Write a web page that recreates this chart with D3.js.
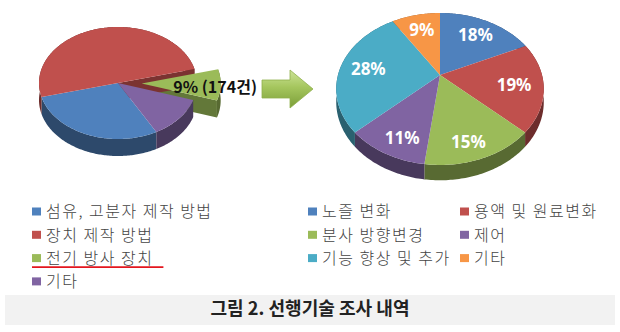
<!DOCTYPE html>
<html><head><meta charset="utf-8">
<script src="https://cdn.jsdelivr.net/npm/d3@7"></script>
<style>
html,body{margin:0;padding:0;background:#fff;}
svg{display:block;}
</style></head><body>
<svg id="chart" width="620" height="332"></svg>
<script>
// 전체 선행기술 분류 (왼쪽 원형)
const leftCategories = ["섬유, 고분자 제작 방법", "장치 제작 방법", "전기 방사 장치", "기타"];
const leftValues = [29, 50, 9, 12];
const leftColors = ["#4F81BD", "#C0504D", "#9BBB59", "#8064A2"];
const highlightIndex = 2;      // 전기 방사 장치 조각을 분리해 강조
const highlightCount = 174;    // 건수

// 전기 방사 장치 세부 분류 (오른쪽 원형)
const rightCategories = ["노즐 변화", "용액 및 원료변화", "분사 방향변경", "제어", "기능 향상 및 추가", "기타"];
const rightValues = [18, 19, 15, 11, 28, 9];
const rightColors = ["#4F81BD", "#C0504D", "#9BBB59", "#8064A2", "#4BACC6", "#F79646"];

const title = "그림 2. 선행기술 조사 내역";

const deg = Math.PI / 180;
const svg = d3.select("#chart");
const defs = svg.append("defs");
const KR = "'Noto Sans CJK KR', 'Noto Sans', sans-serif";

// 3차원 원형: 기울어진 원판을 원근 투영해서 그림
function pie3D(g, values, colors, opt) {
  const arcs = d3.pie().sort(null).value(d => d)
    .startAngle(opt.start).endAngle(opt.start + 2 * Math.PI)(values);
  const proj = (a, r, o) => {
    const X = r * Math.sin(a) + o[0], Z = -r * Math.cos(a) + o[1];
    const w = 1 / (1 - opt.k * Z);
    return { x: opt.cx + opt.rx * X * w, y: opt.cy + opt.ry * Z * w, w, Z };
  };
  const line = d3.line();
  const drop = p => [p.x, p.y + opt.depth * p.w];
  const xy = p => [p.x, p.y];

  const slices = arcs.map((d, i) => {
    const mid = (d.startAngle + d.endAngle) / 2;
    const e = (opt.explode && opt.explode[i]) || 0;
    const o = [e * Math.sin(mid), -e * Math.cos(mid)];
    const n = Math.max(2, Math.ceil((d.endAngle - d.startAngle) / deg));
    const rim = d3.range(n + 1).map(j => proj(d.startAngle + (d.endAngle - d.startAngle) * j / n, 1, o));
    return { d, i, e, o, mid, rim, c: proj(0, 0, o), color: colors[i] };
  });

  const topPath = s => line([xy(s.c), ...s.rim.map(xy)]) + "Z";
  const outerPath = s => line([...s.rim.map(xy), ...s.rim.slice().reverse().map(drop)]) + "Z";
  const radialPath = (s, a) => {
    const p = proj(a, 1, s.o);
    return line([xy(s.c), xy(p), drop(p), drop(s.c)]) + "Z";
  };
  const wallColor = c => d3.color(c).darker(1.6).formatHex();
  const radialColor = c => d3.color(c).darker(1.25).formatHex();

  const exploded = slices.filter(s => s.e > 0);
  const solid = slices.filter(s => s.e === 0);
  const layer = g.append("g");

  // 1) 분리된 조각의 옆면
  exploded.forEach(s => {
    layer.append("path").attr("d", outerPath(s)).attr("fill", wallColor(s.color));
    if (Math.sin(s.d.startAngle) < 0)
      layer.append("path").attr("d", radialPath(s, s.d.startAngle)).attr("fill", radialColor(s.color));
    if (Math.sin(s.d.endAngle) > 0)
      layer.append("path").attr("d", radialPath(s, s.d.endAngle)).attr("fill", radialColor(s.color));
  });
  // 2) 나머지 조각의 바깥 옆면
  solid.forEach(s => layer.append("path").attr("d", outerPath(s)).attr("fill", wallColor(s.color)));
  // 3) 분리로 드러난 이웃 조각의 단면
  exploded.forEach(x => {
    const prev = slices[(x.i - 1 + slices.length) % slices.length];
    const next = slices[(x.i + 1) % slices.length];
    if (prev.e === 0 && Math.sin(prev.d.endAngle) > 0)
      layer.append("path").attr("d", radialPath(prev, prev.d.endAngle)).attr("fill", radialColor(prev.color));
    if (next.e === 0 && Math.sin(next.d.startAngle) < 0)
      layer.append("path").attr("d", radialPath(next, next.d.startAngle)).attr("fill", radialColor(next.color));
  });
  // 4) 윗면
  solid.concat(exploded).forEach(s =>
    layer.append("path").attr("d", topPath(s)).attr("fill", s.color));

  return { slices, proj };
}

// ---- 왼쪽 원형 ----
const left = pie3D(svg.append("g"), leftValues, leftColors, {
  cx: 118, cy: 83, rx: 79, ry: 56, k: 0, depth: 17,
  start: 151 * deg, explode: leftValues.map((v, i) => i === highlightIndex ? 0.3 : 0)
});
const hs = left.slices[highlightIndex];
const hp = left.proj(hs.mid, 0.93, hs.o);
const pctTotal = d3.sum(leftValues);
svg.append("text")
  .attr("x", hp.x).attr("y", hp.y + 1)
  .attr("text-anchor", "middle").attr("dominant-baseline", "central")
  .attr("font-family", KR).attr("font-weight", 700).attr("font-size", 16)
  .attr("fill", "#111")
  .text(`${Math.round(leftValues[highlightIndex] / pctTotal * 100)}% (${highlightCount}건)`);

// ---- 화살표 ----
const grad = defs.append("linearGradient").attr("id", "arrowFill")
  .attr("x1", 0).attr("y1", 0).attr("x2", 0).attr("y2", 1);
grad.append("stop").attr("offset", "0%").attr("stop-color", "#cde497");
grad.append("stop").attr("offset", "45%").attr("stop-color", "#a5c65e");
grad.append("stop").attr("offset", "100%").attr("stop-color", "#7b9e38");
const arrow = { x0: 262, x1: 290, x2: 313, yMid: 89, shaft: 9, head: 19 };
svg.append("path")
  .attr("d", d3.line()([
    [arrow.x0, arrow.yMid - arrow.shaft], [arrow.x1, arrow.yMid - arrow.shaft],
    [arrow.x1, arrow.yMid - arrow.head], [arrow.x2, arrow.yMid],
    [arrow.x1, arrow.yMid + arrow.head], [arrow.x1, arrow.yMid + arrow.shaft],
    [arrow.x0, arrow.yMid + arrow.shaft]]) + "Z")
  .attr("fill", "url(#arrowFill)").attr("stroke", "#8fb04c").attr("stroke-width", 0.8)
  .attr("stroke-linejoin", "round");

// ---- 오른쪽 원형 ----
const rightOpt = { cx: 440, cy: 75, rx: 102, ry: 73.4, k: 0.184, depth: 12.5, start: 0 };
const right = pie3D(svg.append("g"), rightValues, rightColors, rightOpt);
const rTotal = d3.sum(rightValues);
right.slices.forEach(s => {
  const p = right.proj(s.mid, 0.72, [0, 0]);
  const lift = rightOpt.depth * Math.max(0, p.Z) * p.w;
  svg.append("text")
    .attr("x", p.x).attr("y", p.y + lift)
    .attr("text-anchor", "middle").attr("dominant-baseline", "central")
    .attr("font-family", "'Noto Sans', sans-serif").attr("font-weight", 700).attr("font-size", 17)
    .attr("fill", "#fff")
    .text(Math.round(s.d.value / rTotal * 100) + "%");
});

// ---- 범례 ----
function legendItem(x, y, color, label) {
  svg.append("rect").attr("x", x).attr("y", y - 4).attr("width", 9).attr("height", 8).attr("fill", color);
  return svg.append("text").attr("x", x + 14).attr("y", y).attr("dy", "0.36em")
    .attr("font-family", KR).attr("font-weight", 300).attr("font-size", 16).attr("letter-spacing", 1.5)
    .attr("fill", "#444").text(label);
}
const rowY = d3.scaleLinear().domain([0, 1]).range([211.5, 234.8]);
let underlineEnd = 0;
leftCategories.forEach((c, i) => {
  const t = legendItem(32, rowY(i), leftColors[i], c);
  if (i === highlightIndex) underlineEnd = 46 + t.node().getComputedTextLength() + 10;
});
svg.append("line")
  .attr("x1", 32).attr("x2", underlineEnd)
  .attr("y1", rowY(highlightIndex) + 9).attr("y2", rowY(highlightIndex) + 9)
  .attr("stroke", "#e3161e").attr("stroke-width", 1.8);
const colX = [308, 460];
rightCategories.forEach((c, i) => legendItem(colX[i % 2], rowY(Math.floor(i / 2)), rightColors[i], c));

// ---- 제목 ----
svg.append("rect").attr("x", 5).attr("y", 295).attr("width", 610).attr("height", 30).attr("fill", "#f2f2f2");
svg.append("text").attr("x", 310).attr("y", 309).attr("dy", "0.36em")
  .attr("text-anchor", "middle")
  .attr("font-family", KR).attr("font-weight", 700).attr("font-size", 18)
  .attr("textLength", 199).attr("lengthAdjust", "spacingAndGlyphs")
  .attr("fill", "#222").text(title);
</script>
</body></html>
